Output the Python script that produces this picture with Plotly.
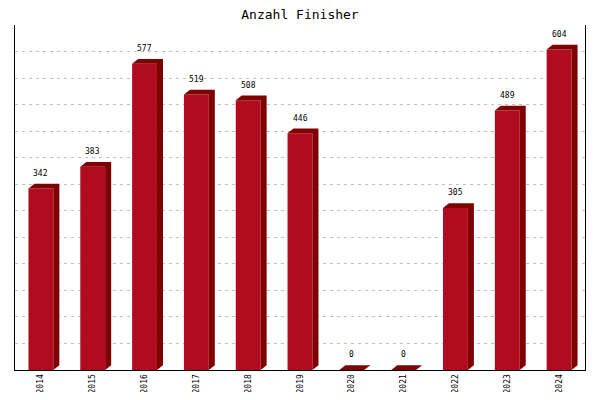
import plotly.graph_objects as go

years = ["2014", "2015", "2016", "2017", "2018", "2019", "2020", "2021", "2022", "2023", "2024"]
finishers = [342, 383, 577, 519, 508, 446, 0, 0, 305, 489, 604]

FRONT = "#B00B1E"
DARK = "#7E0000"
half_w = 0.24
depth_x = 0.116
depth_y = 9.0

fig = go.Figure()
xs = list(range(len(years)))

fig.add_trace(go.Bar(x=xs, y=finishers, width=2 * half_w, marker=dict(color=FRONT, line=dict(width=0)),
                     hoverinfo="skip", showlegend=False))

for i, v in zip(xs, finishers):
    x0, x1 = i - half_w, i + half_w
    px = [x1, x1, x0, x0 + depth_x, x1 + depth_x, x1 + depth_x, x1]
    py = [0, v, v, v + depth_y, v + depth_y, depth_y, 0]
    fig.add_trace(go.Scatter(x=px, y=py, fill="toself", fillcolor=DARK, mode="lines",
                             line=dict(width=0, color=DARK), hoverinfo="skip", showlegend=False))

annotations = []
for i, v in zip(xs, finishers):
    annotations.append(dict(x=i, y=v + depth_y, xref="x", yref="y", text=str(v), showarrow=False,
                            xanchor="center", yanchor="bottom", yshift=4,
                            font=dict(family="DejaVu Sans Mono", size=8, color="black")))

# page body has an 8px margin, so the figure is sized to fit inside the 600x400 window
fig.update_layout(
    width=584, height=384,
    margin=dict(l=7, r=7, t=17, b=22, autoexpand=False),
    paper_bgcolor="white", plot_bgcolor="white",
    title=dict(text="Anzahl Finisher", x=0.5, xanchor="center", y=1 - 6 / 384, yanchor="middle",
               font=dict(family="DejaVu Sans Mono", size=13, color="black")),
    annotations=annotations,
    xaxis=dict(range=[-0.5, 10.5], tickvals=xs, ticktext=years, tickangle=-90,
               showgrid=False, zeroline=False, showline=True, linecolor="black", linewidth=1,
               ticks="", automargin=False, tickfont=dict(family="DejaVu Sans Mono", size=8, color="black")),
    yaxis=dict(range=[0, 650], dtick=50, showticklabels=False, showgrid=True,
               gridcolor="#C0C0C0", griddash="3px,4px", gridwidth=1, zeroline=False, automargin=False,
               showline=True, mirror=True, linecolor="black", linewidth=1, ticks=""),
)

fig.write_html("out.html")
